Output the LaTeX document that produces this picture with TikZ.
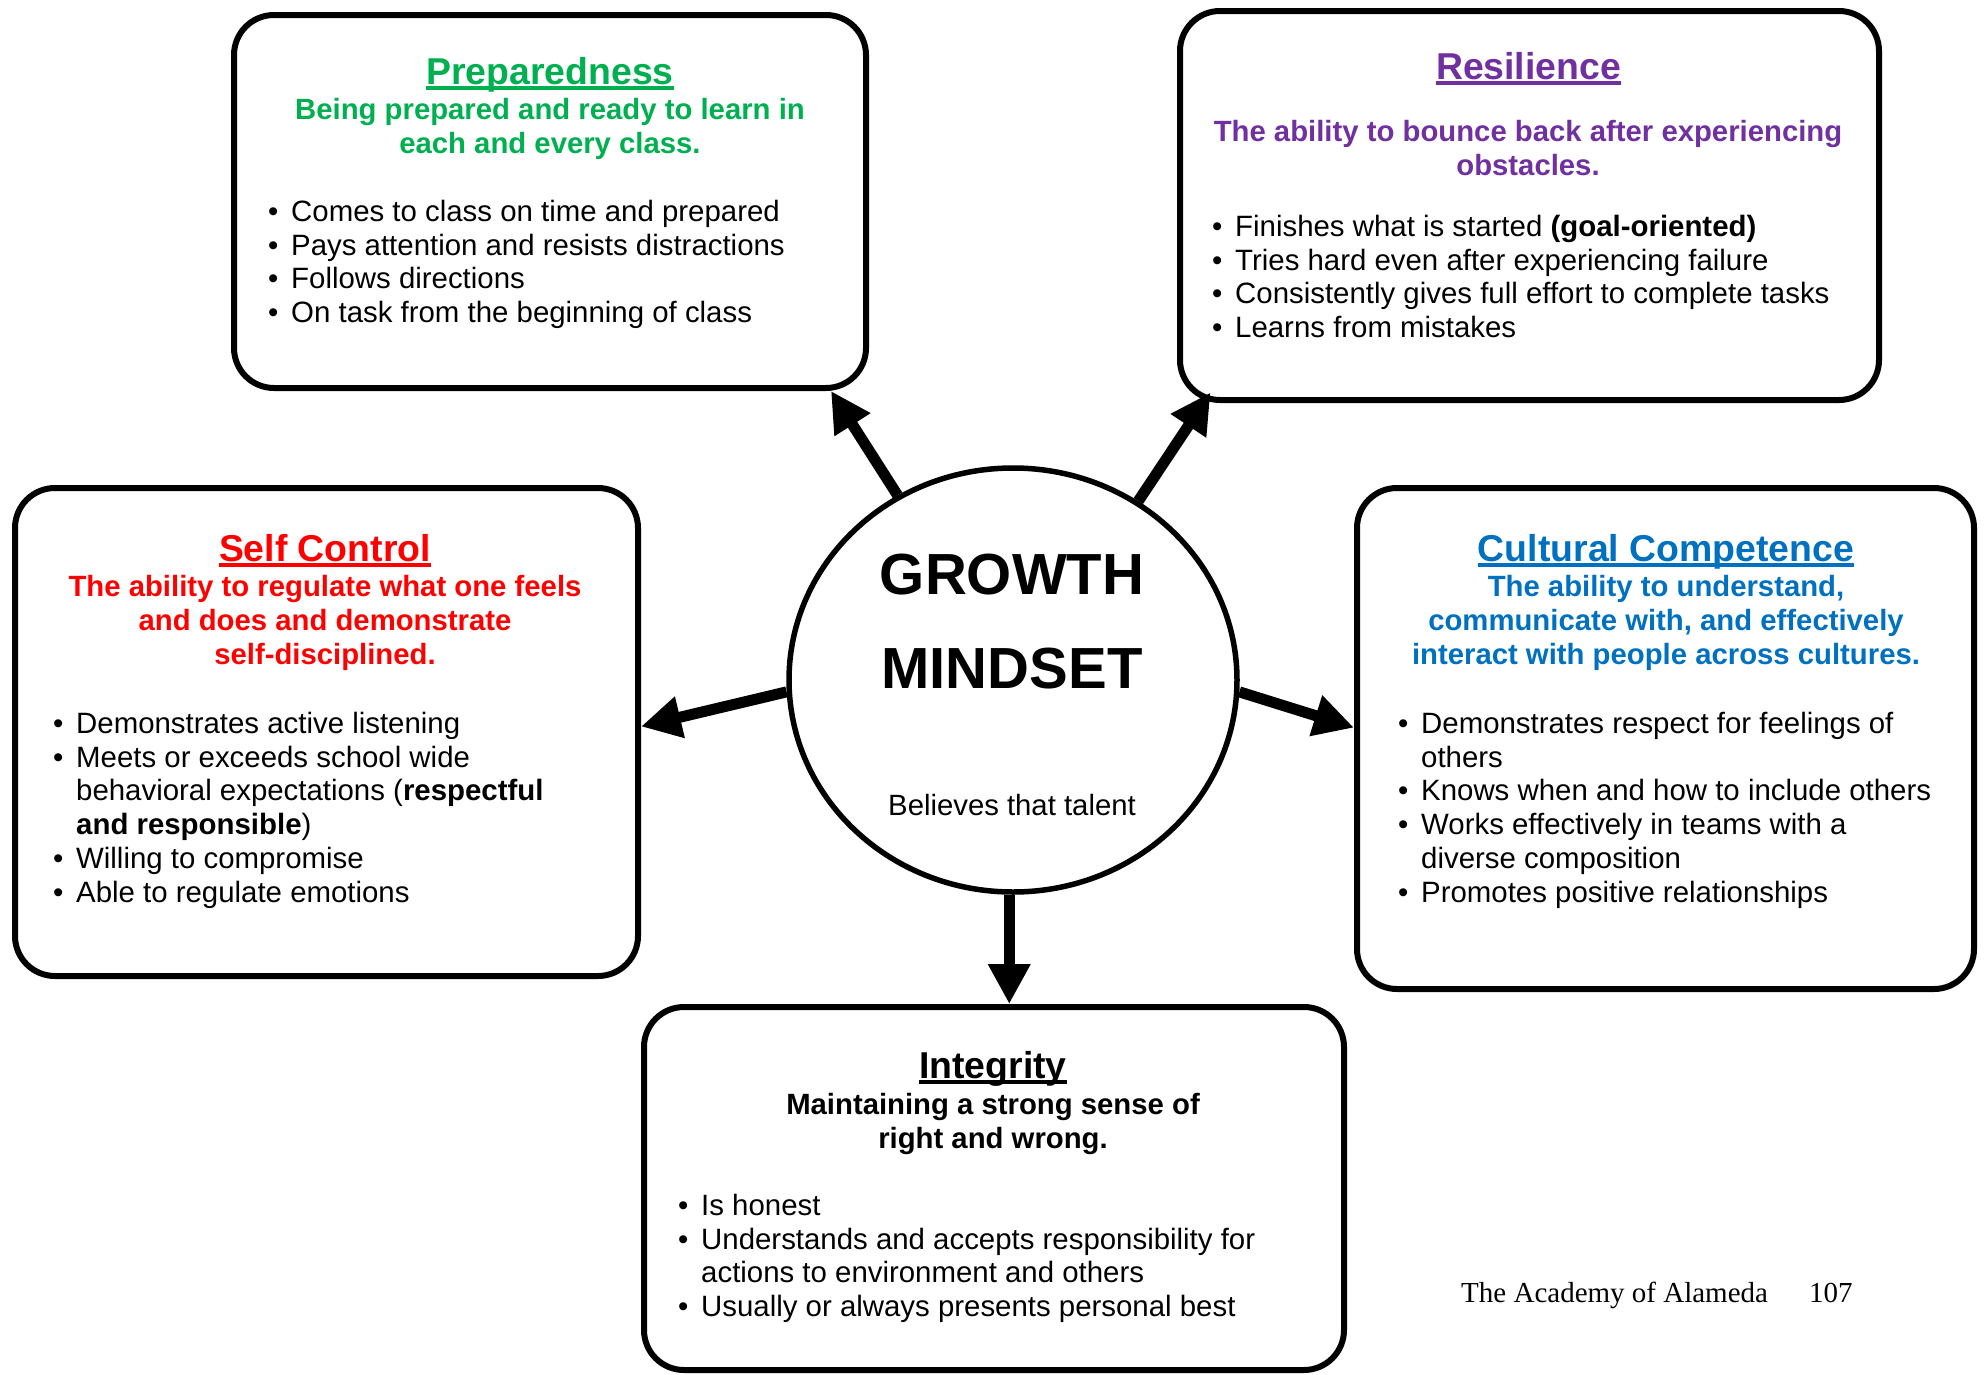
\documentclass[tikz,border=0pt]{standalone}
\usepackage{fontspec}
\setmainfont{Liberation Sans}
\newfontfamily\footerfont{Liberation Serif}
\usetikzlibrary{shapes.geometric,arrows.meta,calc}

\definecolor{prepgreen}{HTML}{00B050}
\definecolor{respurple}{HTML}{7030A0}
\definecolor{ctrlred}{HTML}{FF0000}
\definecolor{cultblue}{HTML}{0070C0}

% underlined box heading, rule in the text colour
\newcommand{\heading}[1]{\setbox0\hbox{#1}\rlap{\rule[-5.5pt]{\wd0}{3.2pt}}\box0}
\newcommand{\bitem}{\makebox[23pt][l]{\textbullet}}
\newcommand{\bcont}{\hspace*{23pt}}

\begin{document}
\begin{tikzpicture}[x=1pt, y=-1pt,
    box/.style={draw, line width=6pt, rounded corners=40pt, inner sep=0pt},
    boxtitle/.style={font=\fontsize{37.4}{42}\selectfont\bfseries, anchor=base, inner sep=0pt},
    boxdesc/.style={font=\fontsize{29.3}{34}\selectfont\bfseries, align=center, anchor=north, inner sep=0pt},
    boxlist/.style={font=\fontsize{29.4}{33.7}\selectfont, align=left, anchor=north west, inner sep=0pt}]
    \useasboundingbox (0,0) rectangle (1984,1374);

    \node[box, minimum width=632pt, minimum height=373pt] (prep) at (550,201.5) {};
    \node[box, minimum width=699pt, minimum height=389pt] (res) at (1529.5,205.5) {};
    \node[box, minimum width=623pt, minimum height=488pt] (ctrl) at (326.5,732) {};
    \node[box, minimum width=617pt, minimum height=501pt] (cult) at (1665.5,738.5) {};
    \node[box, minimum width=700pt, minimum height=363pt] (integ) at (994,1188.5) {};
    \node[draw, ellipse, line width=5.5pt, minimum width=448pt, minimum height=424pt, inner sep=0pt] (gm) at (1013,680) {};

    \node[boxtitle, text=prepgreen] (prepT) at (550,84) {\heading{Preparedness}};
    \node[boxdesc, text=prepgreen] (prepD) at (550,98) {Being prepared and ready to learn in\\each and every class.};
    \node[boxlist] (prepL) at (268,200) {\bitem Comes to class on time and prepared\\
      \bitem Pays attention and resists distractions\\
      \bitem Follows directions\\
      \bitem On task from the beginning of class};

    \node[boxtitle, text=respurple] (resT) at (1528.5,79) {\heading{Resilience}};
    \node[boxdesc, text=respurple] (resD) at (1528,120) {The ability to bounce back after experiencing\\obstacles.};
    \node[boxlist] (resL) at (1212,215) {\bitem Finishes what is started \textbf{(goal-oriented)}\\
      \bitem Tries hard even after experiencing failure\\
      \bitem Consistently gives full effort to complete tasks\\
      \bitem Learns from mistakes};

    \node[boxtitle, text=ctrlred] (ctrlT) at (325,561) {\heading{Self Control}};
    \node[boxdesc, text=ctrlred] (ctrlD) at (325,575) {The ability to regulate what one feels\\and does and demonstrate\\self-disciplined.};
    \node[boxlist] (ctrlL) at (53,712) {\bitem Demonstrates active listening\\
      \bitem Meets or exceeds school wide\\
      \bcont behavioral expectations (\textbf{respectful}\\
      \bcont \textbf{and responsible})\\
      \bitem Willing to compromise\\
      \bitem Able to regulate emotions};

    \node[boxtitle, text=cultblue] (cultT) at (1666,561) {\heading{Cultural Competence}};
    \node[boxdesc, text=cultblue] (cultD) at (1666,575) {The ability to understand,\\communicate with, and effectively\\interact with people across cultures.};
    \node[boxlist] (cultL) at (1398,712) {\bitem Demonstrates respect for feelings of\\
      \bcont others\\
      \bitem Knows when and how to include others\\
      \bitem Works effectively in teams with a\\
      \bcont diverse composition\\
      \bitem Promotes positive relationships};

    \node[boxtitle] (integT) at (993,1078) {\heading{Integrity}};
    \node[boxdesc] (integD) at (993,1093) {Maintaining a strong sense of\\right and wrong.};
    \node[boxlist] (integL) at (678,1194) {\bitem Is honest\\
      \bitem Understands and accepts responsibility for\\
      \bcont actions to environment and others\\
      \bitem Usually or always presents personal best};

    \node[font=\fontsize{58}{70}\selectfont\bfseries, anchor=base, inner sep=0pt] (gmA) at (1012,594) {GROWTH};
    \node[font=\fontsize{58}{70}\selectfont\bfseries, anchor=base, inner sep=0pt] (gmB) at (1012,688) {MINDSET};
    \node[font=\fontsize{29.3}{34}\selectfont, anchor=base, inner sep=0pt] (gmC) at (1012,815) {Believes that talent};

    \node[font=\footerfont\fontsize{29}{34}\selectfont, anchor=base west, inner sep=0pt] (footer) at (1461,1302) {The Academy of Alameda};
    \node[font=\footerfont\fontsize{29}{34}\selectfont, anchor=base west, inner sep=0pt] (page) at (1809,1302) {107};

    \path[-{Triangle[length=40pt,width=40pt]}, line width=11pt]
      (gm.122.5) edge (prep.-34)
      (gm.55.4) edge ($(res.south west)+(33.5,-10.5)$)
      (gm.183.8) edge (ctrl.1)
      (gm.-3.3) edge (cult.178.5)
      (gm.-91.3) edge (gm.-91.3 |- integ.north);
\end{tikzpicture}
\end{document}
